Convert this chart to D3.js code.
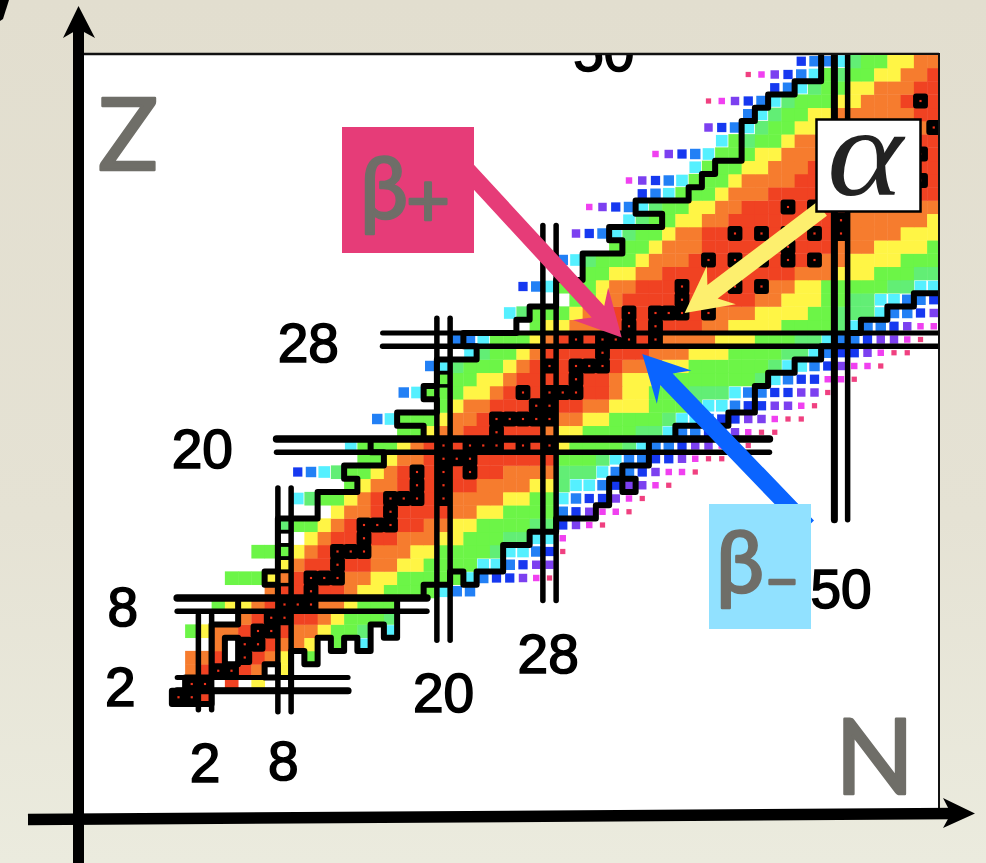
<!DOCTYPE html>
<html>
<head>
<meta charset="utf-8">
<title>Chart of nuclides</title>
<script src="https://d3js.org/d3.v7.min.js"></script>
<style>
  html, body { margin: 0; padding: 0; background: #e6e4d6; }
  svg { display: block; }
</style>
</head>
<body>
<div id="chart"></div>
<script>
// proton number of each row, first neutron number of the row and one letter per cell
const rowZ = [];
for (let z = 1; z <= 49; z++) rowZ.push(z);
const rowFirstN = [0, 1, 1, 1, 2, 1, 4, 3, 7, 4, 8, 6, 8, 8, 9, 9, 13, 9, 14, 13, 17, 15, 20, 17, 20, 19, 20, 21, 26, 25, 28, 26, 31, 29, 33, 30, 34, 31, 35, 34, 39, 36, 41, 40, 43, 40, 45, 43, 47];
const rowCells = [
  "SSR",
  "SS.R.Y..",
  "ORSSRO.Y",
  "OOR.SROY.G",
  ".O.SSROOY.G.C",
  "GYOORSSROOYGGL.C",
  ".ORSSRROYGGGL",
  "GYYORSSSOOYGGG",
  "ORRSRROYYGGGGCBB",
  "GGGYORSSSOOYYGGGGGCBDDPMK",
  "YORRSRROOYYGGGGCCBDPP",
  "GGGYORSSSOOOYYGGGGLCCBDK",
  "..YORRSRROOOYYGGGLLCCM",
  "LGGYORSSSRROOYYGGGGLLDPMK",
  "...YOORSRRRROOYYGGGGBDPMMK",
  "CLGGYORSSSRSOOOOYYGGCBDDPMK",
  "GYOORSRSRROOOOYYLCCBDPPMK",
  "DBCLGGYORSRSRSRROOOOLLLCBBDPMMK",
  "GGYOORSSSRRRRRRGGGLCBBDDPMKK",
  "CGGGYORSRSSSRSRSYGGGGLCBBDPPMMK",
  "GGYOORRSRRROYYGGGGLLCBBDDPMKK",
  "BCGGGYOORSSSSSOOYYGGGGLCCBDDPPMKK",
  "GYOORRRSSRROOYYYGGGLCCBDDPPMK",
  "BCGGGYYORSRSSSRROYYGGGLLLCBBDDPPK",
  "GGGYYORRRRSRROYYYGGGGGGGLCBDDMMK",
  "BCLGGGYORSRSSSROOOYYGGGGGGLCCBDPMMK",
  "..CLGGYORRRRSRRROOOYYYGGGGLLCBDDPMKK",
  "BBCGGGYORSRSSSRSOOOOYYYGGGLLCBBDPPMK",
  ".GYYOOORSRSRRROOYYYYGGGGLCBBDPMM",
  "CLGGGYOORSRSSSRSOOOYYYYGGLLLCBBDP",
  "..GGYORRRRSRRRRROOYYYGGLLCCBBD",
  "DBCGGGYOORRRSRRRSRSOOYYGGGGGLLCC",
  "GGYYOORRRRRRRRRROOOYYYGGGLL",
  "BCLGGGYOOORSRSRSRSRSOOYYYYGGG",
  "GGGYOOORRRRRRSRRROOOYYYYG",
  "PDBCLGGYOORRSRSRSRSRSOOOOYYY",
  "CLGGYYOORRRRRRRRSOOOOOOY",
  "MPDBCLGGYYOORRRSRSRROOOOOOO",
  "DBCGGGYOOORRRRRROOOOORR",
  "MPDBCGGGYOOOORRRRRRRRRSR",
  "CGGGYYOOORRRRRRRRRR",
  "MPDBCGGGYYOOORRRRRRRSR",
  "CGLGGYOOOOOOOOORR",
  "PDBCLGGYYOOOOOOOOS",
  "BCLGGYYOOOOOORR",
  "KMPDBCLGGGYYOOORSR",
  "DBCLGGYYOOORR",
  "KMPDBCGLGGYYOOR",
  "DBBCLGGYYOO"
];

// neutron number runs inside the black drip lines, one list per row
const dripRuns = [
  [[0, 2]], [[1, 8]], [[3, 6], [8, 8]], [[3, 3], [5, 8], [10, 10]], [[3, 3], [5, 10], [12, 12], [14, 14]],
  [[3, 14], [16, 16]], [[5, 16]], [[5, 16]], [[8, 18]], [[7, 20], [22, 22]],
  [[8, 24]], [[8, 24]], [[8, 26]], [[8, 28]], [[11, 31]],
  [[11, 32]], [[14, 32], [34, 34]], [[13, 33]], [[16, 35]], [[15, 35]],
  [[19, 37]], [[17, 41]], [[20, 43]], [[19, 43]], [[20, 44]],
  [[20, 46]], [[23, 48]], [[22, 50]], [[26, 51]], [[27, 53]],
  [[29, 55]], [[29, 58]], [[31, 58]], [[31, 58]], [[34, 58]],
  [[33, 58]], [[37, 58]], [[35, 58]], [[39, 58]], [[40, 58]],
  [[41, 58]], [[43, 58]], [[43, 58]], [[43, 58]], [[44, 58]],
  [[45, 58]], [[47, 58]], [[49, 58]], [[49, 58]]
];

// magic numbers, with how far each double line runs
const magicZ = [2, 8, 20, 28];
const magicZFrom = [-0.1, -0.1, 7.4, 15.4];
const magicZTo = [12.8, 18.75, 44.6, 59];
const magicN = [2, 8, 20, 28, 50];
const magicNFrom = [0.05, -0.1, 5.3, 8.3, 14.4];
const magicNTo = [7.2, 16.8, 29.6, 36.6, 51];

// small outlined cells along N=8 and N=20
const boxedN = [8, 8, 8, 8, 8, 20, 20, 20, 20];
const boxedZ = [10, 11, 12, 13, 14, 25, 26, 27, 28];

// tick labels, placed in N and Z units
const labelText = ["28", "20", "8", "2", "2", "8", "20", "28", "50", "50"];
const labelN = [9.8, 1.8, -4.2, -4.4, 2, 7.9, 20, 27.9, 50, 32.1];
const labelZ = [27.8, 19.8, 7.9, 1.8, -3.9, -3.75, 1.4, 4.3, 9.25, 49.75];

const colors = {
  R: "#f04224", O: "#f67c2e", Y: "#fff545", G: "#6cf546", L: "#62ee74", C: "#55f0ff",
  B: "#2080f5", D: "#1238f0", P: "#7c40f0", M: "#f03ff0", K: "#f04080", S: "#f04224"
};
const inset = { R: 0, O: 0, Y: 0, G: 0, L: 0, S: 0, C: 0.8, B: 1.4, D: 2, P: 2.4, M: 3.4, K: 4 };

const width = 986;
const height = 863;
const x = d3.scaleLinear().domain([2, 50]).range([205, 841]);
const y = d3.scaleLinear().domain([2, 28]).range([684, 339.5]);
const cell = x(1) - x(0);

const svg = d3.select("#chart").append("svg")
  .attr("width", width)
  .attr("height", height)
  .attr("viewBox", "0 0 " + width + " " + height);

const defs = svg.append("defs");
const paper = defs.append("linearGradient").attr("id", "paper")
  .attr("x1", 0).attr("y1", 0).attr("x2", 0).attr("y2", 1);
paper.append("stop").attr("offset", "0%").attr("stop-color", "#e2decf");
paper.append("stop").attr("offset", "60%").attr("stop-color", "#e5e2d4");
paper.append("stop").attr("offset", "100%").attr("stop-color", "#ebebde");
defs.append("clipPath").attr("id", "plot").append("rect")
  .attr("x", 84).attr("y", 55).attr("width", 854).attr("height", 760);
const blur = defs.append("filter").attr("id", "soft")
  .attr("filterUnits", "userSpaceOnUse")
  .attr("x", 0).attr("y", 0).attr("width", width).attr("height", height);
blur.append("feGaussianBlur").attr("stdDeviation", 0.6);

svg.append("rect").attr("width", width).attr("height", height).attr("fill", "url(#paper)");
svg.append("rect").attr("x", 84).attr("y", 55).attr("width", 854).attr("height", 760).attr("fill", "#fff");
svg.append("line").attr("x1", 84).attr("x2", 939).attr("y1", 54).attr("y2", 54).attr("stroke", "#111").attr("stroke-width", 2.5);
svg.append("line").attr("x1", 939).attr("x2", 939).attr("y1", 53).attr("y2", 812).attr("stroke", "#111").attr("stroke-width", 2);

const plot = svg.append("g").attr("clip-path", "url(#plot)").append("g").attr("filter", "url(#soft)");

// flatten the rows to a list of cells
let cells = [];
for (let r = 0; r < rowZ.length; r++) {
  for (let i = 0; i < rowCells[r].length; i++) {
    let code = rowCells[r][i];
    if (code !== ".") cells.push({ n: rowFirstN[r] + i, z: rowZ[r], code: code });
  }
}

plot.selectAll("rect.cell")
  .data(cells)
  .enter()
  .append("rect")
  .attr("class", "cell")
  .attr("x", d => x(d.n) - cell / 2 + inset[d.code])
  .attr("y", d => y(d.z) - cell / 2 + inset[d.code])
  .attr("width", d => cell - 2 * inset[d.code] + (inset[d.code] ? 0 : 0.4))
  .attr("height", d => cell - 2 * inset[d.code] + (inset[d.code] ? 0 : 0.4))
  .attr("fill", d => colors[d.code]);

// black staircase: every side of an inside cell that has an outside neighbour
function isInside(n, z) {
  if (z > 49) return true;
  if (z < 1) return false;
  let runs = dripRuns[z - 1];
  for (let i = 0; i < runs.length; i++) {
    if (n >= runs[i][0] && n <= runs[i][1]) return true;
  }
  return false;
}
let wall = d3.path();
for (let r = 0; r < dripRuns.length; r++) {
  for (let j = 0; j < dripRuns[r].length; j++) {
    for (let n = dripRuns[r][j][0]; n <= dripRuns[r][j][1]; n++) {
      let z = r + 1;
      let left = x(n - 0.5), right = x(n + 0.5), top = y(z + 0.5), bottom = y(z - 0.5);
      if (!isInside(n, z + 1)) { wall.moveTo(left, top); wall.lineTo(right, top); }
      if (!isInside(n, z - 1)) { wall.moveTo(left, bottom); wall.lineTo(right, bottom); }
      if (!isInside(n - 1, z)) { wall.moveTo(left, top); wall.lineTo(left, bottom); }
      if (!isInside(n + 1, z)) { wall.moveTo(right, top); wall.lineTo(right, bottom); }
    }
  }
}
plot.append("path")
  .attr("d", wall.toString())
  .attr("fill", "none")
  .attr("stroke", "#000")
  .attr("stroke-width", 6)
  .attr("stroke-linecap", "round");

plot.selectAll("rect.boxed")
  .data(d3.range(boxedN.length))
  .enter()
  .append("rect")
  .attr("class", "boxed")
  .attr("x", i => x(boxedN[i]) - cell / 2)
  .attr("y", i => y(boxedZ[i]) - cell / 2)
  .attr("width", cell)
  .attr("height", cell)
  .attr("fill", "none")
  .attr("stroke", "#000")
  .attr("stroke-width", 3.5);

// double lines at the magic numbers
for (let i = 0; i < magicZ.length; i++) {
  let z = magicZ[i];
  plot.append("line")
    .attr("x1", x(magicZFrom[i])).attr("x2", x(magicZTo[i]))
    .attr("y1", y(z + 0.5)).attr("y2", y(z + 0.5))
    .attr("stroke", "#000").attr("stroke-width", z === 8 || z === 20 ? 7.5 : 5).attr("stroke-linecap", "round");
  plot.append("line")
    .attr("x1", x(magicZFrom[i])).attr("x2", x(magicZTo[i]))
    .attr("y1", y(z - 0.5)).attr("y2", y(z - 0.5))
    .attr("stroke", "#000").attr("stroke-width", z === 2 ? 7 : 5.5).attr("stroke-linecap", "round");
}
for (let i = 0; i < magicN.length; i++) {
  let n = magicN[i];
  plot.append("line")
    .attr("x1", x(n - 0.5)).attr("x2", x(n - 0.5))
    .attr("y1", y(magicNFrom[i])).attr("y2", y(magicNTo[i]))
    .attr("stroke", "#000").attr("stroke-width", n === 50 ? 7 : 5.5).attr("stroke-linecap", "round");
  plot.append("line")
    .attr("x1", x(n + 0.5)).attr("x2", x(n + 0.5))
    .attr("y1", y(magicNFrom[i])).attr("y2", y(magicNTo[i]))
    .attr("stroke", "#000").attr("stroke-width", 5.5).attr("stroke-linecap", "round");
}

// stable nuclei: black squares with a small red dot
let stable = cells.filter(d => d.code === "S");
plot.selectAll("rect.stable")
  .data(stable)
  .enter()
  .append("rect")
  .attr("class", "stable")
  .attr("x", d => x(d.n) - cell / 2 - 0.8)
  .attr("y", d => y(d.z) - cell / 2 - 0.8)
  .attr("width", cell + 1.6)
  .attr("height", cell + 1.6)
  .attr("rx", 3)
  .attr("fill", "#000");
plot.selectAll("rect.dot")
  .data(stable)
  .enter()
  .append("rect")
  .attr("class", "dot")
  .attr("x", d => x(d.n) - 1.1)
  .attr("y", d => y(d.z) - 1.1)
  .attr("width", 2.2)
  .attr("height", 2.2)
  .attr("fill", "#f0341a");

plot.selectAll("text.tick")
  .data(labelText)
  .enter()
  .append("text")
  .attr("class", "tick")
  .attr("x", (d, i) => x(labelN[i]))
  .attr("y", (d, i) => y(labelZ[i]))
  .attr("dy", "0.36em")
  .attr("text-anchor", "middle")
  .attr("font-family", "Liberation Sans")
  .attr("font-size", 55)
  .attr("stroke", "#000")
  .attr("stroke-width", 1.6)
  .attr("fill", "#000")
  .text(d => d);

// decay arrows, given tail to tip in N and Z units
const arrowNames = ["alpha", "betaPlus", "betaMinus"];
const arrowFromN = [48.55, 21.6, 47.5];
const arrowFromZ = [37.85, 41.0, 13.9];
const arrowToN = [38.2, 33.45, 35.0];
const arrowToZ = [30.0, 28.15, 26.9];
const arrowColors = ["#fdef6e", "#e63c78", "#0a64ff"];

function arrowPoints(i) {
  let tipX = x(arrowToN[i]), tipY = y(arrowToZ[i]);
  let tailX = x(arrowFromN[i]), tailY = y(arrowFromZ[i]);
  let len = Math.hypot(tailX - tipX, tailY - tipY);
  let ux = (tailX - tipX) / len, uy = (tailY - tipY) / len;
  let at = function (along, side) {
    return [tipX + ux * along - uy * side, tipY + uy * along + ux * side];
  };
  return [at(0, 0), at(46, 24), at(35, 8.5), at(len, 8.5), at(len, -8.5), at(35, -8.5), at(46, -24)];
}

// blue and yellow go under their boxes, the pink one too
svg.selectAll("polygon.arrow")
  .data(arrowNames)
  .enter()
  .append("polygon")
  .attr("class", "arrow")
  .attr("points", (d, i) => arrowPoints(i).join(" "))
  .attr("fill", (d, i) => arrowColors[i]);

svg.append("rect").attr("x", 342).attr("y", 127).attr("width", 132).attr("height", 126).attr("fill", "#e63c78");
svg.append("rect").attr("x", 709).attr("y", 504).attr("width", 102).attr("height", 125).attr("fill", "#91e1ff");
svg.append("rect").attr("x", 816.5).attr("y", 119.5).attr("width", 104).attr("height", 92)
  .attr("fill", "#fff").attr("stroke", "#000").attr("stroke-width", 2.5);

svg.append("text")
  .attr("x", 827).attr("y", 195)
  .attr("textLength", 76)
  .attr("lengthAdjust", "spacingAndGlyphs")
  .attr("font-family", "Liberation Serif")
  .attr("font-style", "italic")
  .attr("font-size", 126)
  .attr("fill", "#222")
  .attr("filter", "url(#soft)")
  .text("α");

function handLabel(px, py, size, txt) {
  svg.append("text")
    .attr("x", px).attr("y", py)
    .attr("font-family", "Lato")
    .attr("font-size", size)
    .attr("fill", "#6f6e68")
    .attr("stroke", "#6f6e68")
    .attr("stroke-width", 2.5)
    .attr("stroke-linejoin", "round")
    .text(txt);
}
handLabel(360, 218, 86, "β");
handLabel(406, 227, 76, "+");
handLabel(716, 592, 86, "β");
handLabel(764, 600, 62, "–");
handLabel(98, 170, 100, "Z");
handLabel(835, 794, 104, "N");

// axes of the slide, drawn over the plot box
svg.append("line").attr("x1", 78.5).attr("x2", 78.5).attr("y1", 863).attr("y2", 28)
  .attr("stroke", "#000").attr("stroke-width", 11);
svg.append("polygon").attr("points", "78.5,6 95,38 78.5,29 63,38").attr("fill", "#000");
svg.append("line").attr("x1", 28).attr("x2", 955).attr("y1", 819.5).attr("y2", 813.5)
  .attr("stroke", "#000").attr("stroke-width", 11.5);
svg.append("polygon").attr("points", "975,813.5 943,798 951,813.5 943,828").attr("fill", "#000");
svg.append("polygon").attr("points", "0,0 9,0 3,19 0,21").attr("fill", "#000");
</script>
</body>
</html>
